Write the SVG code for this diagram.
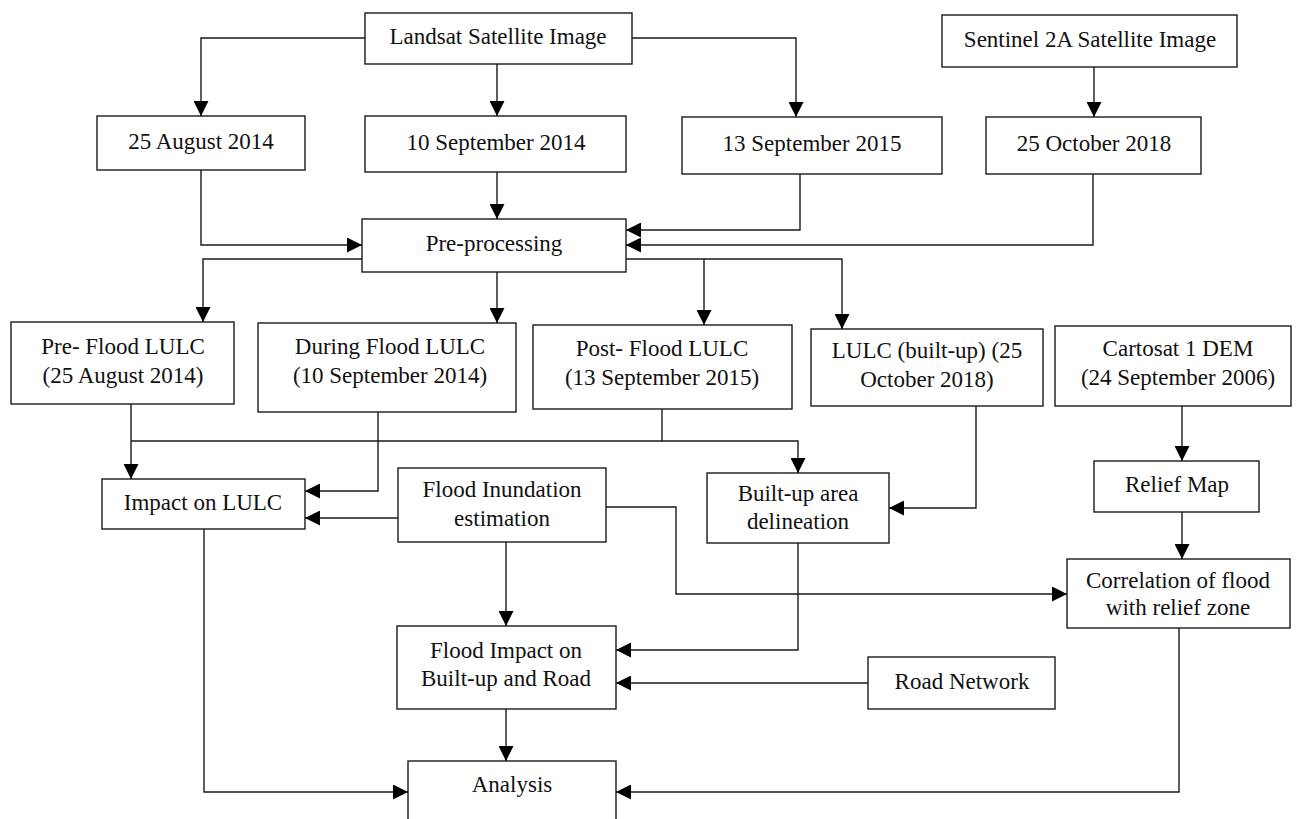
<svg xmlns="http://www.w3.org/2000/svg" width="1301" height="819" viewBox="0 0 1301 819">
<style>
.box{fill:#fff;stroke:#1a1a1a;stroke-width:1.4}
.t{font-family:"Liberation Serif","Times New Roman",serif;font-size:23px;fill:#111;text-anchor:middle}
.c{fill:none;stroke:#1a1a1a;stroke-width:1.4}
</style>
<defs>
<marker id="ah" viewBox="0 0 14 14" refX="14" refY="7" markerWidth="15" markerHeight="15" markerUnits="userSpaceOnUse" orient="auto">
<path d="M0,0 L14,7 L0,14 z" fill="#000"/>
</marker>
</defs>
<rect width="1301" height="819" fill="#fff"/>
<g id="connectors">
<path class="c" d="M365,38 H201 V116" marker-end="url(#ah)"/>
<path class="c" d="M497,64 V116" marker-end="url(#ah)"/>
<path class="c" d="M632,38 H796 V117" marker-end="url(#ah)"/>
<path class="c" d="M1094,67 V117" marker-end="url(#ah)"/>
<path class="c" d="M201,170 V245 H362" marker-end="url(#ah)"/>
<path class="c" d="M497,172 V219" marker-end="url(#ah)"/>
<path class="c" d="M800,174 V230 H626" marker-end="url(#ah)"/>
<path class="c" d="M1093,174 V245 H626" marker-end="url(#ah)"/>
<path class="c" d="M362,259 H203 V322" marker-end="url(#ah)"/>
<path class="c" d="M497,272 V323" marker-end="url(#ah)"/>
<path class="c" d="M626,259 H704 V325" marker-end="url(#ah)"/>
<path class="c" d="M704,259 H842 V329" marker-end="url(#ah)"/>
<path class="c" d="M131,404 V479" marker-end="url(#ah)"/>
<path class="c" d="M131,441 H798 V473" marker-end="url(#ah)"/>
<path class="c" d="M662,409 V441"/>
<path class="c" d="M378,412 V491 H305" marker-end="url(#ah)"/>
<path class="c" d="M398,518 H305" marker-end="url(#ah)"/>
<path class="c" d="M606,507 H676 V594 H1067" marker-end="url(#ah)"/>
<path class="c" d="M976,406 V508 H889" marker-end="url(#ah)"/>
<path class="c" d="M1182,406 V461" marker-end="url(#ah)"/>
<path class="c" d="M1182,512 V559" marker-end="url(#ah)"/>
<path class="c" d="M506,542 V626" marker-end="url(#ah)"/>
<path class="c" d="M798,543 V650 H616" marker-end="url(#ah)"/>
<path class="c" d="M868,683 H616" marker-end="url(#ah)"/>
<path class="c" d="M204,529 V792 H408" marker-end="url(#ah)"/>
<path class="c" d="M506,709 V761" marker-end="url(#ah)"/>
<path class="c" d="M1179,628 V792 H616" marker-end="url(#ah)"/>
</g>
<g id="landsat"><rect class="box" x="365" y="13" width="267" height="51"/><text class="t" x="498" y="44">Landsat Satellite Image</text></g>
<g id="sentinel"><rect class="box" x="942" y="15" width="295" height="52"/><text class="t" x="1090" y="47">Sentinel 2A Satellite Image</text></g>
<g id="aug2014"><rect class="box" x="97" y="116" width="208" height="54"/><text class="t" x="201" y="149">25 August 2014</text></g>
<g id="sep2014"><rect class="box" x="365" y="116" width="261" height="56"/><text class="t" x="496" y="150">10 September 2014</text></g>
<g id="sep2015"><rect class="box" x="682" y="117" width="260" height="57"/><text class="t" x="812" y="151">13 September 2015</text></g>
<g id="oct2018"><rect class="box" x="986" y="117" width="215" height="57"/><text class="t" x="1094" y="151">25 October 2018</text></g>
<g id="preprocessing"><rect class="box" x="362" y="219" width="264" height="53"/><text class="t" x="494" y="251">Pre-processing</text></g>
<g id="preflood"><rect class="box" x="11" y="322" width="223" height="82"/><text class="t" x="123" y="354">Pre- Flood LULC</text><text class="t" x="123" y="383">(25 August 2014)</text></g>
<g id="duringflood"><rect class="box" x="258" y="323" width="258" height="89"/><text class="t" x="390" y="354">During Flood LULC</text><text class="t" x="390" y="383">(10 September 2014)</text></g>
<g id="postflood"><rect class="box" x="533" y="325" width="259" height="84"/><text class="t" x="662" y="356">Post- Flood LULC</text><text class="t" x="662" y="385">(13 September 2015)</text></g>
<g id="lulcbuiltup"><rect class="box" x="811" y="329" width="232" height="77"/><text class="t" x="927" y="358">LULC (built-up) (25</text><text class="t" x="927" y="387">October 2018)</text></g>
<g id="cartosat"><rect class="box" x="1055" y="326" width="236" height="80"/><text class="t" x="1178" y="356">Cartosat 1 DEM</text><text class="t" x="1178" y="385">(24 September 2006)</text></g>
<g id="impact"><rect class="box" x="102" y="479" width="203" height="50"/><text class="t" x="203" y="510">Impact on LULC</text></g>
<g id="inundation"><rect class="box" x="398" y="468" width="208" height="74"/><text class="t" x="502" y="497">Flood Inundation</text><text class="t" x="502" y="526">estimation</text></g>
<g id="builtuparea"><rect class="box" x="707" y="473" width="182" height="70"/><text class="t" x="798" y="501">Built-up area</text><text class="t" x="798" y="529">delineation</text></g>
<g id="relief"><rect class="box" x="1094" y="461" width="165" height="51"/><text class="t" x="1177" y="492">Relief Map</text></g>
<g id="correlation"><rect class="box" x="1067" y="559" width="223" height="69"/><text class="t" x="1178" y="588">Correlation of flood</text><text class="t" x="1178" y="615">with relief zone</text></g>
<g id="floodimpact"><rect class="box" x="397" y="626" width="219" height="83"/><text class="t" x="506" y="658">Flood Impact on</text><text class="t" x="506" y="686">Built-up and Road</text></g>
<g id="road"><rect class="box" x="868" y="657" width="187" height="52"/><text class="t" x="962" y="689">Road Network</text></g>
<g id="analysis"><rect class="box" x="408" y="761" width="208" height="80"/><text class="t" x="512" y="792">Analysis</text></g>
</svg>
